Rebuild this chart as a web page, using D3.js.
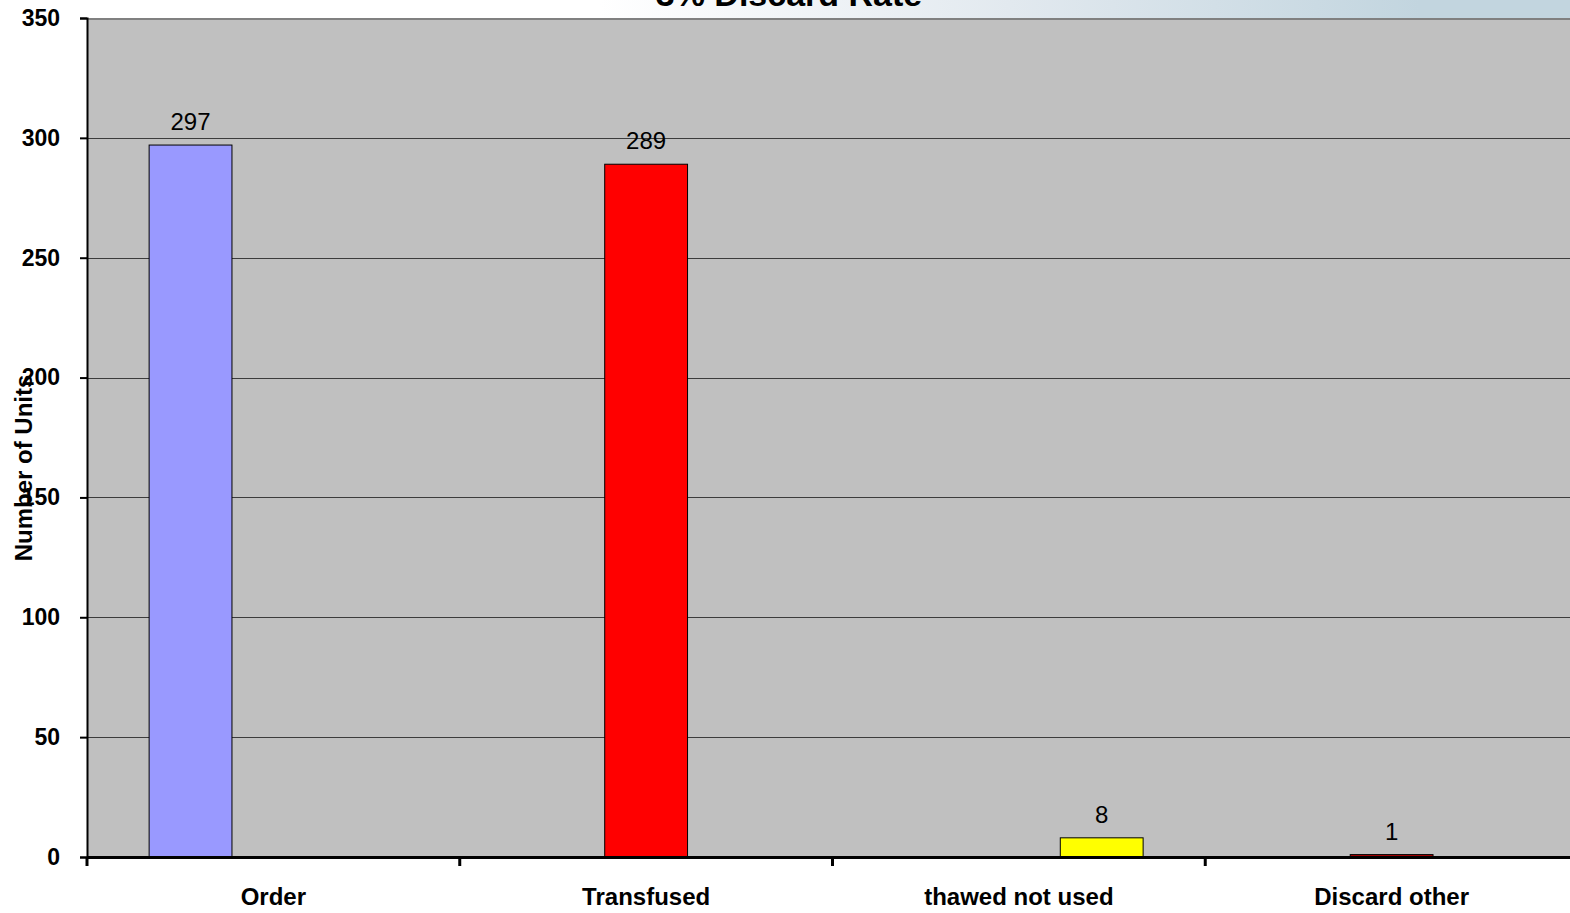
<!DOCTYPE html>
<html>
<head>
<meta charset="utf-8">
<script src="https://cdn.jsdelivr.net/npm/d3@7"></script>
<style>
  html, body { margin: 0; padding: 0; background: #fff; }
  svg { display: block; }
</style>
</head>
<body>
<svg id="chart" width="1570" height="913"></svg>
<script>
// Unit counts by disposition
const categories = ["Order", "Transfused", "thawed not used", "Discard other"];
const values = [297, 289, 8, 1];
// which series slot each bar occupies within its category cluster
const seriesSlot = ["s1", "s2", "s3", "s2"];
const seriesNames = ["s1", "s2", "s3"];
const barColors = ["#9999ff", "#ff0000", "#ffff00", "#b00000"];
const yTicks = [0, 50, 100, 150, 200, 250, 300, 350];
const titleText = "3% Discard Rate";
const yTitle = "Number of Units";

const svg = d3.select("#chart");
const W = 1570, H = 913;
const m = { left: 87, top: 18, bottom: 857 };
const plotRight = 87 + 4 * 372.75;
const FONT = "Liberation Sans, Arial, sans-serif";

// header strip gradient
const defs = svg.append("defs");
const grad = defs.append("linearGradient").attr("id", "hdr")
  .attr("gradientUnits", "userSpaceOnUse")
  .attr("x1", 600).attr("y1", 0).attr("x2", 1420).attr("y2", 0);
grad.append("stop").attr("offset", 0).attr("stop-color", "#ffffff");
grad.append("stop").attr("offset", 0.5).attr("stop-color", "#e2e9ef");
grad.append("stop").attr("offset", 1).attr("stop-color", "#c2d5df");
svg.append("rect").attr("x", 0).attr("y", 0).attr("width", W).attr("height", m.top + 1)
  .attr("fill", "url(#hdr)");

const x = d3.scaleBand().domain(categories).range([m.left, plotRight]).paddingInner(0).paddingOuter(0);
const slot = d3.scaleBand().domain(seriesNames).range([0, x.bandwidth()]).paddingInner(0).paddingOuter(0.75);
const y = d3.scaleLinear().domain([0, 350]).range([m.bottom, m.top]);

// plot background
svg.append("rect").attr("x", m.left).attr("y", m.top)
  .attr("width", plotRight - m.left).attr("height", m.bottom - m.top)
  .attr("fill", "#c0c0c0");
svg.append("line").attr("x1", m.left).attr("x2", plotRight)
  .attr("y1", m.top + 1).attr("y2", m.top + 1)
  .attr("stroke", "#808080").attr("stroke-width", 2);

// gridlines
svg.append("g").selectAll("line").data(yTicks.filter(t => t > 0 && t < 350)).join("line")
  .attr("x1", m.left).attr("x2", plotRight)
  .attr("y1", d => Math.round(y(d)) + 0.5).attr("y2", d => Math.round(y(d)) + 0.5)
  .attr("stroke", "#3c3c3c").attr("stroke-width", 1);

// bars
const data = categories.map((c, i) => ({ c, v: values[i], s: seriesSlot[i], color: barColors[i] }));
svg.append("g").selectAll("rect").data(data).join("rect")
  .attr("x", d => x(d.c) + slot(d.s))
  .attr("y", d => y(d.v))
  .attr("width", slot.bandwidth())
  .attr("height", d => y(0) - y(d.v))
  .attr("fill", d => d.color)
  .attr("stroke", "#000").attr("stroke-width", 1);

// value labels
svg.append("g").selectAll("text").data(data).join("text")
  .attr("x", d => x(d.c) + slot(d.s) + slot.bandwidth() / 2)
  .attr("y", d => y(d.v) - 15)
  .attr("text-anchor", "middle")
  .attr("font-family", FONT)
  .attr("font-size", 24)
  .attr("fill", "#000")
  .text(d => d.v);

// y axis
const yAxis = d3.axisLeft(y).tickValues(yTicks).tickSize(7).tickPadding(20).tickFormat(d3.format("d"));
const gy = svg.append("g").attr("transform", `translate(${m.left},0)`).call(yAxis);
gy.select(".domain").attr("stroke", "#000").attr("stroke-width", 2);
gy.selectAll(".tick line").attr("stroke", "#000").attr("stroke-width", 2);
gy.selectAll(".tick text")
  .attr("font-family", FONT)
  .attr("font-size", 23).attr("font-weight", "bold").attr("fill", "#000");

// x axis
const xAxis = d3.axisBottom(x).tickSize(0).tickPadding(31);
const gx = svg.append("g").attr("transform", `translate(0,${m.bottom})`).call(xAxis);
gx.select(".domain").attr("stroke", "#000").attr("stroke-width", 3);
gx.selectAll(".tick text")
  .attr("font-family", FONT)
  .attr("font-size", 24).attr("font-weight", "bold").attr("fill", "#000");
// category divider ticks
svg.append("g").selectAll("line").data(categories).join("line")
  .attr("x1", d => x(d)).attr("x2", d => x(d))
  .attr("y1", m.bottom).attr("y2", m.bottom + 9)
  .attr("stroke", "#000").attr("stroke-width", 3);

// axis title
svg.append("text")
  .attr("transform", `translate(32,468) rotate(-90)`)
  .attr("text-anchor", "middle")
  .attr("font-family", FONT)
  .attr("font-size", 24).attr("font-weight", "bold").attr("fill", "#000")
  .text(yTitle);

// chart title
svg.append("text")
  .attr("x", 789).attr("y", 6)
  .attr("text-anchor", "middle")
  .attr("font-family", FONT)
  .attr("font-size", 34).attr("font-weight", "bold").attr("fill", "#000")
  .text(titleText);
</script>
</body>
</html>
